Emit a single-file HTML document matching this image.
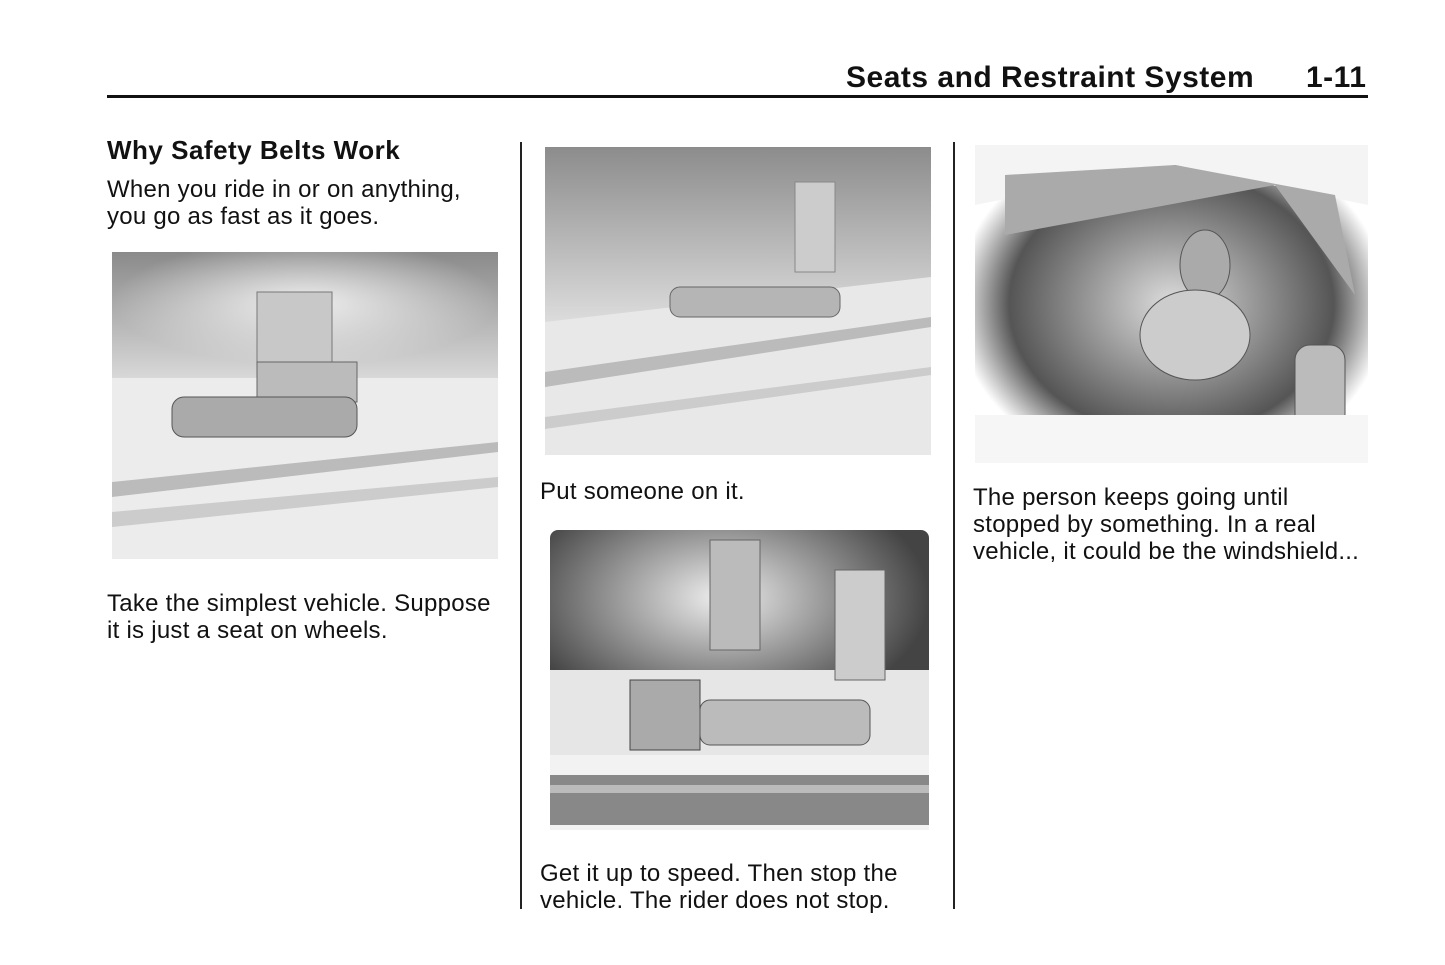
<!DOCTYPE html>
<html><head><meta charset="utf-8"><style>
body{margin:0;width:1445px;height:965px;background:#fff;position:relative;font-family:"Liberation Sans",Arial,sans-serif;color:#111;overflow:hidden}
.a{position:absolute}
.t{font-size:24px;line-height:27px;white-space:nowrap;letter-spacing:0.26px}
</style></head><body>
<div class="a" style="left:846px;top:61px;font-size:30px;font-weight:bold;white-space:nowrap;letter-spacing:0.5px">Seats and Restraint System</div>
<div class="a" style="left:1306px;top:61px;font-size:30px;font-weight:bold;letter-spacing:0.5px">1-11</div>
<div class="a" style="left:107px;top:95px;width:1261px;height:3px;background:#111"></div>

<div class="a" style="left:107px;top:135px;font-size:26px;font-weight:bold;letter-spacing:0.5px;white-space:nowrap">Why Safety Belts Work</div>
<div class="a t" style="left:107px;top:176px">When you ride in or on anything,<br>you go as fast as it goes.</div>

<svg class="a" style="left:112px;top:252px" width="386" height="307">
<defs><linearGradient id="g1" x1="0" y1="0" x2="0" y2="1"><stop offset="0" stop-color="#8a8a8a"/><stop offset="1" stop-color="#d8d8d8"/></linearGradient>
<radialGradient id="r1" cx="0.5" cy="0.4" r="0.5"><stop offset="0" stop-color="#fff" stop-opacity=".8"/><stop offset="1" stop-color="#fff" stop-opacity="0"/></radialGradient></defs>
<rect width="386" height="126" fill="url(#g1)"/><rect width="386" height="126" fill="url(#r1)"/>
<rect y="126" width="386" height="181" fill="#ececec"/>
<polygon points="0,230 386,190 386,200 0,245" fill="#bbb"/>
<polygon points="0,260 386,225 386,235 0,275" fill="#ccc"/>
<rect x="145" y="40" width="75" height="80" fill="#c8c8c8" stroke="#777"/>
<rect x="145" y="110" width="100" height="40" fill="#bbb" stroke="#666"/>
<rect x="60" y="145" width="185" height="40" rx="12" fill="#aaa" stroke="#555"/>
</svg>
<div class="a t" style="left:107px;top:590px">Take the simplest vehicle. Suppose<br>it is just a seat on wheels.</div>

<div class="a" style="left:520px;top:142px;width:2px;height:767px;background:#222"></div>
<div class="a" style="left:953px;top:142px;width:2px;height:767px;background:#222"></div>

<svg class="a" style="left:545px;top:147px" width="386" height="308">
<defs><linearGradient id="g2" x1="0" y1="0" x2="0" y2="1"><stop offset="0" stop-color="#8c8c8c"/><stop offset="1" stop-color="#dcdcdc"/></linearGradient></defs>
<rect width="386" height="308" fill="#e8e8e8"/>
<polygon points="0,0 386,0 386,130 0,175" fill="url(#g2)"/>
<polygon points="0,225 386,170 386,180 0,240" fill="#bbb"/>
<polygon points="0,270 386,220 386,228 0,282" fill="#ccc"/>
<rect x="250" y="35" width="40" height="90" fill="#ccc" stroke="#888"/>
<rect x="125" y="140" width="170" height="30" rx="10" fill="#b5b5b5" stroke="#666"/>
</svg>
<div class="a t" style="left:540px;top:478px">Put someone on it.</div>

<svg class="a" style="left:550px;top:530px" width="379" height="300">
<defs><radialGradient id="r3" cx="0.45" cy="0.3" r="0.55"><stop offset="0" stop-color="#eee"/><stop offset="1" stop-color="#444"/></radialGradient></defs>
<rect width="379" height="225" rx="8" fill="url(#r3)"/>
<rect y="140" width="379" height="85" fill="#e6e6e6"/>
<rect y="225" width="379" height="75" fill="#f2f2f2"/>
<rect y="245" width="379" height="50" fill="#888"/>
<rect y="255" width="379" height="8" fill="#bbb"/>
<rect x="80" y="150" width="70" height="70" fill="#aaa" stroke="#444"/>
<rect x="150" y="170" width="170" height="45" rx="10" fill="#bbb" stroke="#555"/>
<rect x="285" y="40" width="50" height="110" fill="#ccc" stroke="#666"/>
<rect x="160" y="10" width="50" height="110" fill="#bbb" stroke="#666"/>
</svg>
<div class="a t" style="left:540px;top:860px">Get it up to speed. Then stop the<br>vehicle. The rider does not stop.</div>

<svg class="a" style="left:975px;top:145px" width="393" height="318">
<defs><radialGradient id="r4" cx="0.5" cy="0.5" r="0.55"><stop offset="0" stop-color="#ddd"/><stop offset=".75" stop-color="#555"/><stop offset="1" stop-color="#fff"/></radialGradient></defs>
<rect width="393" height="318" fill="url(#r4)"/>
<polygon points="0,0 393,0 393,60 200,20 0,60" fill="#f4f4f4"/>
<polygon points="30,30 200,20 360,50 380,150 300,40 30,90" fill="#aaa"/>
<ellipse cx="230" cy="120" rx="25" ry="35" fill="#aaa" stroke="#555"/>
<ellipse cx="220" cy="190" rx="55" ry="45" fill="#ccc" stroke="#555"/>
<rect x="320" y="200" width="50" height="90" rx="15" fill="#bbb" stroke="#555"/>
<rect x="0" y="270" width="393" height="48" fill="#f6f6f6"/>
</svg>
<div class="a t" style="left:973px;top:484px">The person keeps going until<br>stopped by something. In a real<br>vehicle, it could be the windshield...</div>
</body></html>
